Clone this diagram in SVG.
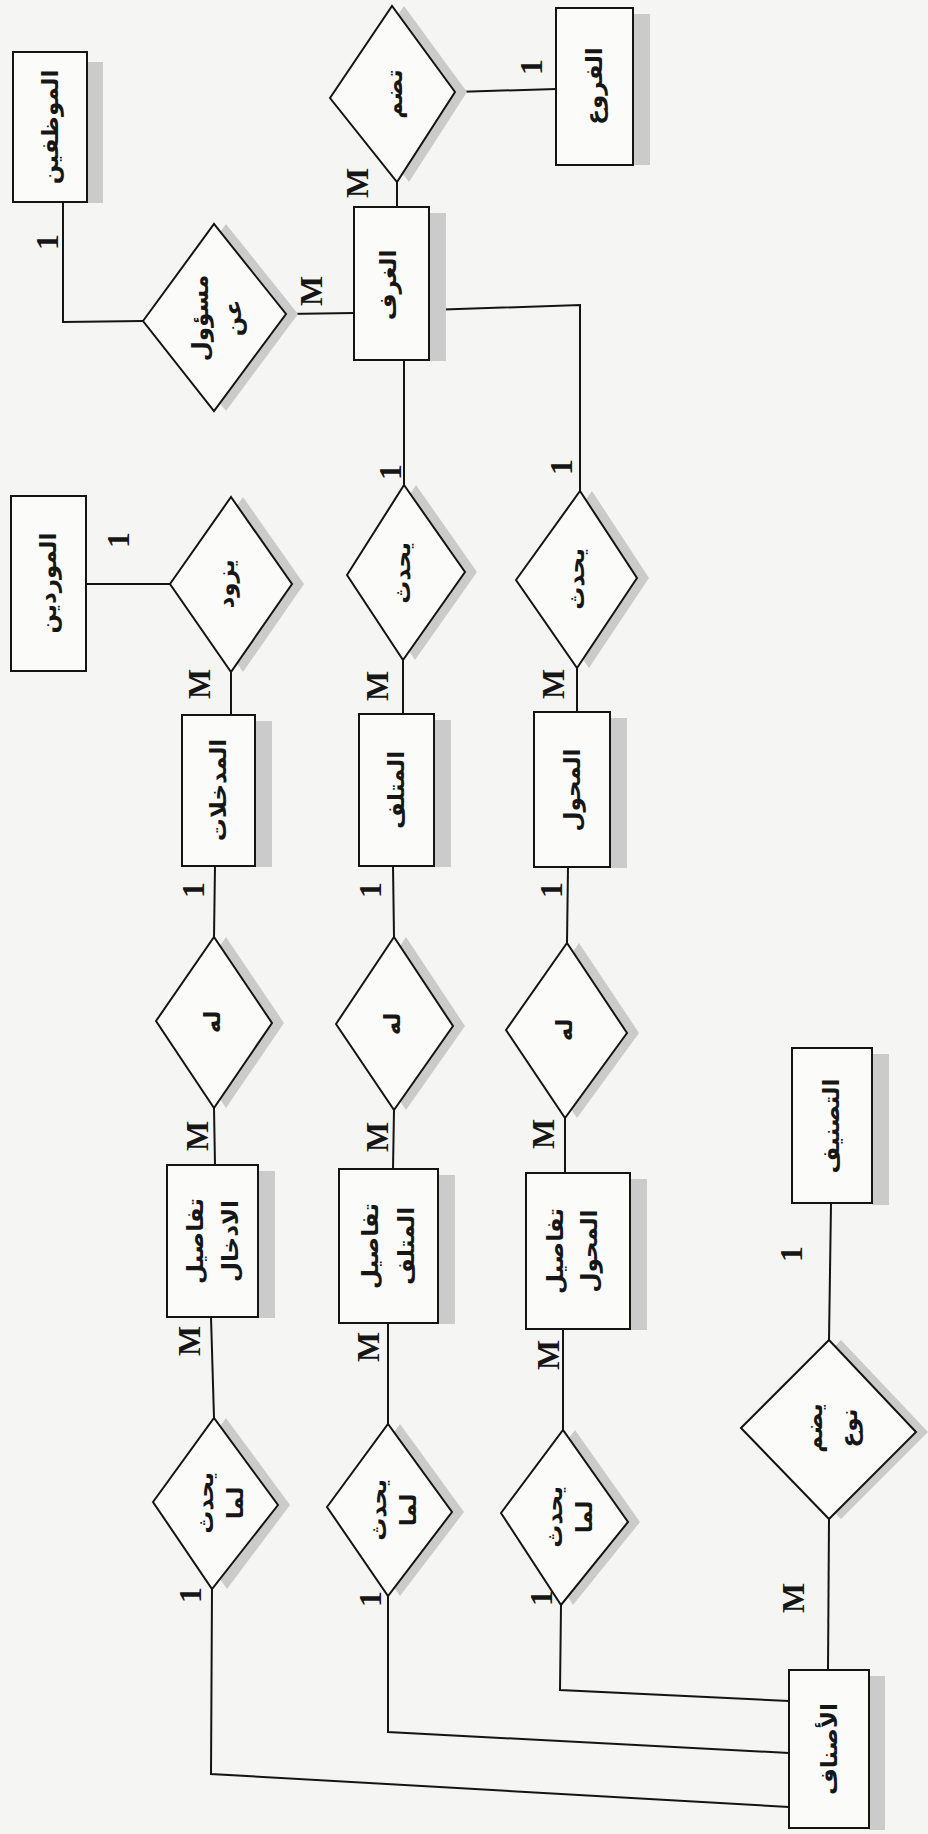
<svg xmlns="http://www.w3.org/2000/svg" width="928" height="1834" viewBox="0 0 928 1834">
  <style>
    .ent { fill: #fbfbfa; stroke: #141414; stroke-width: 2; }
    .rel { fill: #fbfbfa; stroke: #141414; stroke-width: 2; stroke-linejoin: miter; }
    .sh { fill: #cbcbcb; }
    .wire { fill: none; stroke: #141414; stroke-width: 2; }
    .lbl { font-family: "DejaVu Sans", "Noto Sans", sans-serif; font-weight: bold; font-size: 23px; fill: #161616; text-anchor: middle; dominant-baseline: central; }
    .card { font-family: "Liberation Serif", "Times New Roman", serif; font-weight: bold; font-size: 32px; fill: #161616; text-anchor: middle; dominant-baseline: central; }
  </style>
  <rect width="928" height="1834" fill="#f5f5f3"/>

  <!-- connectors -->
  <g id="connectors">
    <polyline class="wire" points="63,202 63,322 143,321"/>
    <line class="wire" x1="286" y1="314" x2="354" y2="313"/>
    <line class="wire" x1="397" y1="182" x2="397" y2="207"/>
    <line class="wire" x1="455" y1="92" x2="556" y2="89"/>
    <polyline class="wire" points="429,310 580,305 580,491"/>
    <line class="wire" x1="404" y1="360" x2="404" y2="485"/>
    <line class="wire" x1="403" y1="660" x2="403" y2="714"/>
    <line class="wire" x1="170" y1="584" x2="86" y2="584"/>
    <line class="wire" x1="231" y1="672" x2="231" y2="715"/>
    <line class="wire" x1="577" y1="668" x2="577" y2="712"/>
    <line class="wire" x1="215" y1="866" x2="214" y2="937"/>
    <line class="wire" x1="393" y1="866" x2="394" y2="937"/>
    <line class="wire" x1="568" y1="867" x2="567" y2="943"/>
    <line class="wire" x1="214" y1="1108" x2="215" y2="1165"/>
    <line class="wire" x1="394" y1="1110" x2="393" y2="1169"/>
    <line class="wire" x1="565" y1="1118" x2="565" y2="1173"/>
    <line class="wire" x1="211" y1="1317" x2="214" y2="1418"/>
    <line class="wire" x1="388" y1="1323" x2="388" y2="1424"/>
    <line class="wire" x1="563" y1="1329" x2="563" y2="1430"/>
    <polyline class="wire" points="212,1589 211,1774 789,1807"/>
    <polyline class="wire" points="388,1596 388,1732 789,1753"/>
    <polyline class="wire" points="561,1605 560,1690 789,1701"/>
    <line class="wire" x1="831" y1="1204" x2="829" y2="1340"/>
    <line class="wire" x1="829" y1="1519" x2="828" y2="1670"/>
  </g>

  <!-- cardinalities -->
  <g id="cardinalities">
    <text class="card" transform="translate(47,242) rotate(-90)">1</text>
    <text class="card" transform="translate(311,291) rotate(-90)">M</text>
    <text class="card" transform="translate(357,183) rotate(-90)">M</text>
    <text class="card" transform="translate(531,67) rotate(-90)">1</text>
    <text class="card" transform="translate(118,540) rotate(-90)">1</text>
    <text class="card" transform="translate(199,684) rotate(-90)">M</text>
    <text class="card" transform="translate(390,472) rotate(-90)">1</text>
    <text class="card" transform="translate(377,686) rotate(-90)">M</text>
    <text class="card" transform="translate(561,467) rotate(-90)">1</text>
    <text class="card" transform="translate(553,684) rotate(-90)">M</text>
    <text class="card" transform="translate(193,890) rotate(-90)">1</text>
    <text class="card" transform="translate(370,890) rotate(-90)">1</text>
    <text class="card" transform="translate(551,890) rotate(-90)">1</text>
    <text class="card" transform="translate(197,1136) rotate(-90)">M</text>
    <text class="card" transform="translate(377,1137) rotate(-90)">M</text>
    <text class="card" transform="translate(543,1134) rotate(-90)">M</text>
    <text class="card" transform="translate(791,1254) rotate(-90)">1</text>
    <text class="card" transform="translate(189,1341) rotate(-90)">M</text>
    <text class="card" transform="translate(368,1347) rotate(-90)">M</text>
    <text class="card" transform="translate(548,1355) rotate(-90)">M</text>
    <text class="card" transform="translate(190,1595) rotate(-90)">1</text>
    <text class="card" transform="translate(370,1599) rotate(-90)">1</text>
    <text class="card" transform="translate(541,1598) rotate(-90)">1</text>
    <text class="card" transform="translate(793,1598) rotate(-90)">M</text>
  </g>

  <!-- entities -->
  <g id="e-employees">
    <rect class="sh" x="87" y="62" width="16" height="141"/>
    <rect class="ent" x="13" y="52" width="74" height="150"/>
    <text class="lbl" transform="translate(50,127) rotate(-90)">الموظفين</text>
  </g>
  <g id="e-branches">
    <rect class="sh" x="633" y="14" width="17" height="151"/>
    <rect class="ent" x="556" y="8" width="77" height="157"/>
    <text class="lbl" transform="translate(594,86) rotate(-90)">الفروع</text>
  </g>
  <g id="e-rooms">
    <rect class="sh" x="429" y="213" width="17" height="148"/>
    <rect class="ent" x="354" y="207" width="75" height="153"/>
    <text class="lbl" transform="translate(388,285) rotate(-90)">الغرف</text>
  </g>
  <g id="e-suppliers">
    <rect class="ent" x="11" y="496" width="75" height="175"/>
    <text class="lbl" transform="translate(48,583) rotate(-90)">الموردين</text>
  </g>
  <g id="e-inputs">
    <rect class="sh" x="255" y="721" width="17" height="146"/>
    <rect class="ent" x="182" y="715" width="73" height="151"/>
    <text class="lbl" transform="translate(218,790) rotate(-90)">المدخلات</text>
  </g>
  <g id="e-damaged">
    <rect class="sh" x="434" y="720" width="17" height="147"/>
    <rect class="ent" x="359" y="714" width="75" height="152"/>
    <text class="lbl" transform="translate(396,790) rotate(-90)">المتلف</text>
  </g>
  <g id="e-transferred">
    <rect class="sh" x="610" y="718" width="17" height="150"/>
    <rect class="ent" x="534" y="712" width="76" height="155"/>
    <text class="lbl" transform="translate(572,790) rotate(-90)">المحول</text>
  </g>
  <g id="e-input-details">
    <rect class="sh" x="258" y="1171" width="17" height="147"/>
    <rect class="ent" x="167" y="1165" width="91" height="152"/>
    <text class="lbl" transform="translate(212,1241) rotate(-90)"><tspan x="0" y="-17">تفاصيل</tspan><tspan x="0" y="18">الادخال</tspan></text>
  </g>
  <g id="e-damaged-details">
    <rect class="sh" x="438" y="1175" width="17" height="149"/>
    <rect class="ent" x="339" y="1169" width="99" height="154"/>
    <text class="lbl" transform="translate(388,1246) rotate(-90)"><tspan x="0" y="-18">تفاصيل</tspan><tspan x="0" y="18">المتلف</tspan></text>
  </g>
  <g id="e-transfer-details">
    <rect class="sh" x="630" y="1179" width="17" height="151"/>
    <rect class="ent" x="526" y="1173" width="104" height="156"/>
    <text class="lbl" transform="translate(572,1251) rotate(-90)"><tspan x="0" y="-17">تفاصيل</tspan><tspan x="0" y="17">المحول</tspan></text>
  </g>
  <g id="e-category">
    <rect class="sh" x="872" y="1054" width="17" height="151"/>
    <rect class="ent" x="792" y="1048" width="80" height="155"/>
    <text class="lbl" transform="translate(831,1126) rotate(-90)">التصنيف</text>
  </g>
  <g id="e-items">
    <rect class="sh" x="869" y="1676" width="16" height="154"/>
    <rect class="ent" x="789" y="1670" width="80" height="158"/>
    <text class="lbl" transform="translate(829,1749) rotate(-90)">الأصناف</text>
  </g>

  <!-- relationships -->
  <g id="r-responsible">
    <polygon class="sh" points="155,321 226,224 298,314 226,411"/>
    <polygon class="rel" points="143,321 214,224 286,314 214,411"/>
    <text class="lbl" transform="translate(216,318) rotate(-90)"><tspan x="0" y="-16">مسؤول</tspan><tspan x="0" y="17">عن</tspan></text>
  </g>
  <g id="r-includes">
    <polygon class="sh" points="342,98 404,6 467,92 409,182"/>
    <polygon class="rel" points="330,98 392,6 455,92 397,182"/>
    <text class="lbl" transform="translate(394,94) rotate(-90)">تضم</text>
  </g>
  <g id="r-supplies">
    <polygon class="sh" points="182,584 243,497 304,584 243,672"/>
    <polygon class="rel" points="170,584 231,497 292,584 231,672"/>
    <text class="lbl" transform="translate(226,584) rotate(-90)">يزود</text>
  </g>
  <g id="r-occurs-2">
    <polygon class="sh" points="359,575 416,485 477,572 415,660"/>
    <polygon class="rel" points="347,575 404,485 465,572 403,660"/>
    <text class="lbl" transform="translate(402,573) rotate(-90)">يحدث</text>
  </g>
  <g id="r-occurs-3">
    <polygon class="sh" points="528,580 592,491 649,578 589,668"/>
    <polygon class="rel" points="516,580 580,491 637,578 577,668"/>
    <text class="lbl" transform="translate(576,579) rotate(-90)">يحدث</text>
  </g>
  <g id="r-has-1">
    <polygon class="sh" points="168,1021 226,937 284,1023 226,1108"/>
    <polygon class="rel" points="156,1021 214,937 272,1023 214,1108"/>
    <text class="lbl" transform="translate(212,1022) rotate(-90)">له</text>
  </g>
  <g id="r-has-2">
    <polygon class="sh" points="348,1024 406,937 465,1026 406,1110"/>
    <polygon class="rel" points="336,1024 394,937 453,1026 394,1110"/>
    <text class="lbl" transform="translate(392,1024) rotate(-90)">له</text>
  </g>
  <g id="r-has-3">
    <polygon class="sh" points="518,1030 579,943 639,1033 577,1118"/>
    <polygon class="rel" points="506,1030 567,943 627,1033 565,1118"/>
    <text class="lbl" transform="translate(564,1030) rotate(-90)">له</text>
  </g>
  <g id="r-when-1">
    <polygon class="sh" points="165,1502 226,1418 290,1505 227,1589"/>
    <polygon class="rel" points="153,1502 214,1418 278,1505 212,1589"/>
    <text class="lbl" transform="translate(217,1503) rotate(-90)"><tspan x="0" y="-12">يحدث</tspan><tspan x="0" y="18">لما</tspan></text>
  </g>
  <g id="r-when-2">
    <polygon class="sh" points="339,1507 400,1424 464,1512 400,1596"/>
    <polygon class="rel" points="327,1507 388,1424 452,1512 388,1596"/>
    <text class="lbl" transform="translate(390,1510) rotate(-90)"><tspan x="0" y="-12">يحدث</tspan><tspan x="0" y="18">لما</tspan></text>
  </g>
  <g id="r-when-3">
    <polygon class="sh" points="513,1513 575,1430 640,1522 573,1605"/>
    <polygon class="rel" points="501,1513 563,1430 628,1522 561,1605"/>
    <text class="lbl" transform="translate(566,1517) rotate(-90)"><tspan x="0" y="-12">يحدث</tspan><tspan x="0" y="18">لما</tspan></text>
  </g>
  <g id="r-type">
    <polygon class="sh" points="753,1428 841,1340 928,1432 841,1519"/>
    <polygon class="rel" points="741,1428 829,1340 916,1432 829,1519"/>
    <text class="lbl" transform="translate(831,1428) rotate(-90)"><tspan x="0" y="-17">يضم</tspan><tspan x="0" y="18">نوع</tspan></text>
  </g>
</svg>
